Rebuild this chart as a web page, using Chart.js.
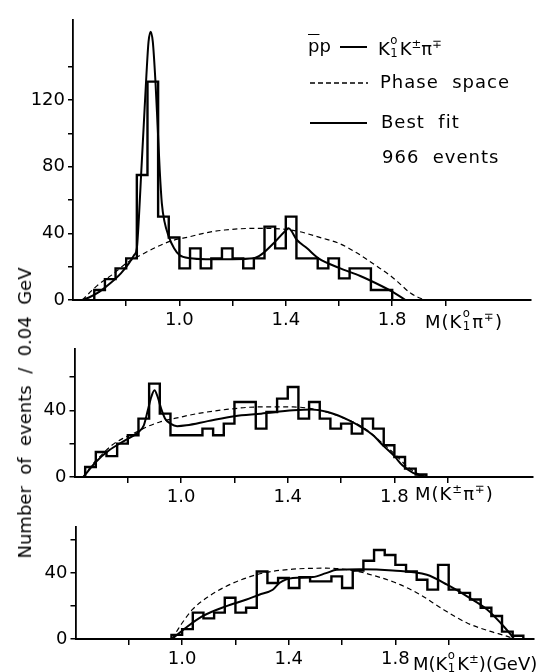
<!DOCTYPE html>
<html><head><meta charset="utf-8">
<script src="https://cdn.jsdelivr.net/npm/chart.js@4.4.1/dist/chart.umd.min.js"></script>
<style>
html,body{margin:0;padding:0;background:#fff;}
#wrap{position:relative;width:543px;height:672px;overflow:hidden;font-family:"DejaVu Sans",sans-serif;color:#000;background:#fff;}
canvas{position:absolute;left:0;top:0;}
.t{position:absolute;font-size:18px;line-height:18px;white-space:pre;}
.leg{letter-spacing:1px;}
.t sup{font-size:0.65em;vertical-align:0.6em;line-height:0;}
.ss{display:inline-block;position:relative;width:0.55em;height:1em;}
.ss .u{position:absolute;left:0.04em;top:-0.2em;font-size:0.65em;line-height:1;}
.ss .d{position:absolute;left:0.04em;top:0.98em;font-size:0.65em;line-height:1;}
.ln{position:absolute;height:0;border-top:2px solid #000;}
#ytitle{position:absolute;left:25px;top:413px;transform:translate(-50%,-50%) rotate(-90deg);font-size:18px;line-height:18px;white-space:pre;}
</style></head>
<body><div id="wrap">
<canvas id="c1" width="543" height="672"></canvas>
<canvas id="c2" width="543" height="672"></canvas>
<canvas id="c3" width="543" height="672"></canvas>

<div class="t" style="left:308px;top:37px;"><span style="text-decoration:overline">p</span>p</div>
<div class="ln" style="left:340px;top:46px;width:27px;"></div>
<div class="t" style="left:378px;top:37px;">K<span class="ss"><span class="u">o</span><span class="d">1</span></span>K<sup>±</sup>π<sup>∓</sup></div>
<svg style="position:absolute;left:310px;top:81px;" width="58" height="4"><line x1="0" y1="2" x2="58" y2="2" stroke="#000" stroke-width="1.3" stroke-dasharray="5,3"/></svg>
<div class="t leg" style="left:380px;top:73px;">Phase  space</div>
<div class="ln" style="left:310px;top:122px;width:57px;"></div>
<div class="t leg" style="left:381px;top:113px;">Best  fit</div>
<div class="t leg" style="left:382px;top:148px;">966  events</div>

<div class="t leg" style="left:425px;top:310px;">M(K<span class="ss"><span class="u">o</span><span class="d">1</span></span>π<sup>∓</sup>)</div>
<div class="t leg" style="left:415px;top:485px;">M(K<sup>±</sup>π<sup>∓</sup>)</div>
<div class="t" style="left:413px;top:652px;">M(K<span class="ss"><span class="u">o</span><span class="d">1</span></span>K<sup>±</sup>)(GeV)</div>
<div id="ytitle">Number  of  events  /  0.04  GeV</div>
</div>
<script>
// ---------- data ----------
const xTickValues = [0.8, 1.0, 1.2, 1.4, 1.6, 1.8, 2.0];
const xTickLabels = [1.0, 1.4, 1.8];
const binWidth = 0.04;

// Top panel: M(K1 pi)
const topBins = [0.68,0.72,0.76,0.80,0.84,0.88,0.92,0.96,1.00,1.04,1.08,1.12,1.16,1.20,1.24,1.28,1.32,1.36,1.40,1.44,1.48,1.52,1.56,1.60,1.64,1.68,1.72,1.76];
const topCounts = [6,12.5,19,25,75,131,50,37.5,19,31,19,25,31,25,19,25,44,31,50,25,25,19,25,13,19,19,6,6];
const topFitM = [0.635,0.66,0.70,0.74,0.78,0.81,0.83,0.84,0.848,0.856,0.866,0.876,0.884,0.892,0.900,0.910,0.918,0.926,0.934,0.944,0.96,0.98,1.00,1.04,1.10,1.20,1.28,1.31,1.36,1.395,1.41,1.442,1.48,1.523,1.60,1.68,1.76,1.80,1.85];
const topFitN = [0,1.5,5,10,16,22,27,31,50,75,105,135,155,161,155,131,105,78,58,47,38,31,27,25,24.5,24.5,25,27.5,35,41,43,36,31,25,19.3,14.4,8.4,5,0];
const topPsM = [0.635,0.69,0.75,0.80,0.85,0.91,0.97,1.04,1.09,1.17,1.29,1.42,1.54,1.60,1.67,1.74,1.79,1.82,1.87,1.92];
const topPsN = [0,8.5,15.5,22,26.5,31.5,35.5,38,40,42,43,42,37,34,28,20.5,15,11,4,0];

// Middle panel: M(K pi)
const midBins = [0.64,0.68,0.72,0.76,0.80,0.84,0.88,0.92,0.96,1.00,1.04,1.08,1.12,1.16,1.20,1.24,1.28,1.32,1.36,1.40,1.44,1.48,1.52,1.56,1.60,1.64,1.68,1.72,1.76,1.80,1.84,1.88];
const midCounts = [6,15,12.5,20,25,35,56,38,25,25,25,29,25,32,45,45,29,39,47,54,35,45,35,29,32,26,35,29,19,12,5,1.5];
const midFitM = [0.633,0.68,0.73,0.79,0.84,0.86,0.875,0.888,0.90,0.912,0.925,0.94,0.96,0.985,1.02,1.10,1.20,1.30,1.42,1.49,1.55,1.63,1.68,1.72,1.76,1.80,1.83,1.87,1.92];
const midFitN = [0,9,16,22,27,31,40,48,52,48,41,35,32,30.5,31,33.5,36.5,38,40,40.5,39,34,29.5,25,18.5,12.5,7,2.5,0];
const midPsM = [0.633,0.67,0.70,0.74,0.78,0.82,0.87,0.92,1.00,1.06,1.17,1.29,1.42,1.52,1.60,1.69,1.75,1.80,1.85,1.90,1.92];
const midPsN = [0,8,13,19,23,26,30,33,36,38,40.5,42,42,40,36,29,21,14,6,1,0];

// Bottom panel: M(K1 K)
const botBins = [0.96,1.00,1.04,1.08,1.12,1.16,1.20,1.24,1.28,1.32,1.36,1.40,1.44,1.48,1.52,1.56,1.60,1.64,1.68,1.72,1.76,1.80,1.84,1.88,1.92,1.96,2.00,2.04,2.08,2.12,2.16,2.20,2.24];
const botCounts = [2.5,6,16,12.5,16,25,16,19,41,34,37,31,37.5,35,35,38,31,41.5,47.5,54,51,45,41,36,30,45,30,28,24,19,14,4.5,2];
const botFitM = [0.962,1.013,1.075,1.164,1.239,1.289,1.34,1.365,1.415,1.49,1.54,1.58,1.667,1.79,1.918,1.994,2.069,2.145,2.195,2.233,2.245];
const botFitN = [0,6.7,13.7,19.8,23.8,26.9,29.9,34,37,37.6,40,42,42.4,41.6,39,33,25.9,17.8,9.7,2.6,0];
const botPsM = [0.962,0.985,1.0,1.038,1.10,1.164,1.239,1.314,1.415,1.54,1.64,1.73,1.818,1.893,1.981,2.069,2.157,2.22,2.245];
const botPsN = [0,6,9.7,17.8,25.9,31.9,37,40.4,42.4,43,41.6,38,33,26.9,17.8,9.7,4.6,1.6,0];

// ---------- drawing ----------
const W = 543, H = 672, YW = 60, XH = 32;
const FONT = {family: '"DejaVu Sans", sans-serif', size: 18};

function histPts(bins, counts) {
  const pts = [{x: bins[0], y: 0}];
  bins.forEach((b, i) => pts.push({x: b, y: counts[i]}));
  pts.push({x: bins[bins.length - 1] + binWidth, y: 0});
  return pts;
}
function curvePts(ms, ns) { return ms.map((m, i) => ({x: m, y: ns[i]})); }

function panel(id, area, yMax, yTicks, yLabels, hist, fit, ps) {
  return new Chart(document.getElementById(id), {
    type: 'line',
    data: {datasets: [
      {data: hist, stepped: 'before', borderColor: '#000', borderWidth: 2.4, fill: false, pointRadius: 0, clip: false},
      {data: fit, borderColor: '#000', borderWidth: 2, cubicInterpolationMode: 'monotone', fill: false, pointRadius: 0, clip: false},
      {data: ps, borderColor: '#000', borderWidth: 1.2, borderDash: [5, 3.5], cubicInterpolationMode: 'monotone', fill: false, pointRadius: 0, clip: false}
    ]},
    options: {
      responsive: false, animation: false, devicePixelRatio: 1,
      layout: {autoPadding: false, padding: {left: area.left - YW, right: W - area.right, top: area.top, bottom: H - area.bottom - XH}},
      plugins: {legend: {display: false}, tooltip: {enabled: false}},
      scales: {
        x: {
          type: 'linear', min: 0.6, max: 2.32,
          afterFit: s => { s.height = XH; },
          afterBuildTicks: s => { s.ticks = xTickValues.map(v => ({value: v})); },
          ticks: {autoSkip: false, maxRotation: 0, padding: 4, color: '#000', font: FONT,
            callback: v => { const l = xTickLabels.find(t => Math.abs(t - v) < 1e-6); return l === undefined ? '' : l.toFixed(1); }},
          grid: {display: true, drawOnChartArea: false, drawTicks: true, tickLength: 6, color: '#000', lineWidth: 1.5},
          border: {display: true, color: '#000', width: 2}
        },
        y: {
          type: 'linear', min: 0, max: yMax,
          afterFit: s => { s.width = YW; },
          afterBuildTicks: s => { s.ticks = yTicks.map(v => ({value: v})); },
          ticks: {autoSkip: false, padding: 3, color: '#000', font: FONT,
            callback: v => yLabels.includes(v) ? String(v) : ''},
          grid: {display: true, drawOnChartArea: false, drawTicks: true, tickLength: 5, color: '#000', lineWidth: 1.5},
          border: {display: true, color: '#000', width: 1.8}
        }
      }
    }
  });
}

panel('c1', {left: 73, right: 530.5, top: 20, bottom: 300}, 168,
  [0,20,40,60,80,100,120,140], [0,40,80,120],
  histPts(topBins, topCounts), curvePts(topFitM, topFitN), curvePts(topPsM, topPsN));
panel('c2', {left: 74.5, right: 533, top: 348.6, bottom: 477}, 77,
  [0,20,40,60], [0,40],
  histPts(midBins, midCounts), curvePts(midFitM, midFitN), curvePts(midPsM, midPsN));
panel('c3', {left: 75.5, right: 534, top: 527, bottom: 639}, 68,
  [0,20,40,60], [0,40],
  histPts(botBins, botCounts), curvePts(botFitM, botFitN), curvePts(botPsM, botPsN));
</script>
</body></html>
